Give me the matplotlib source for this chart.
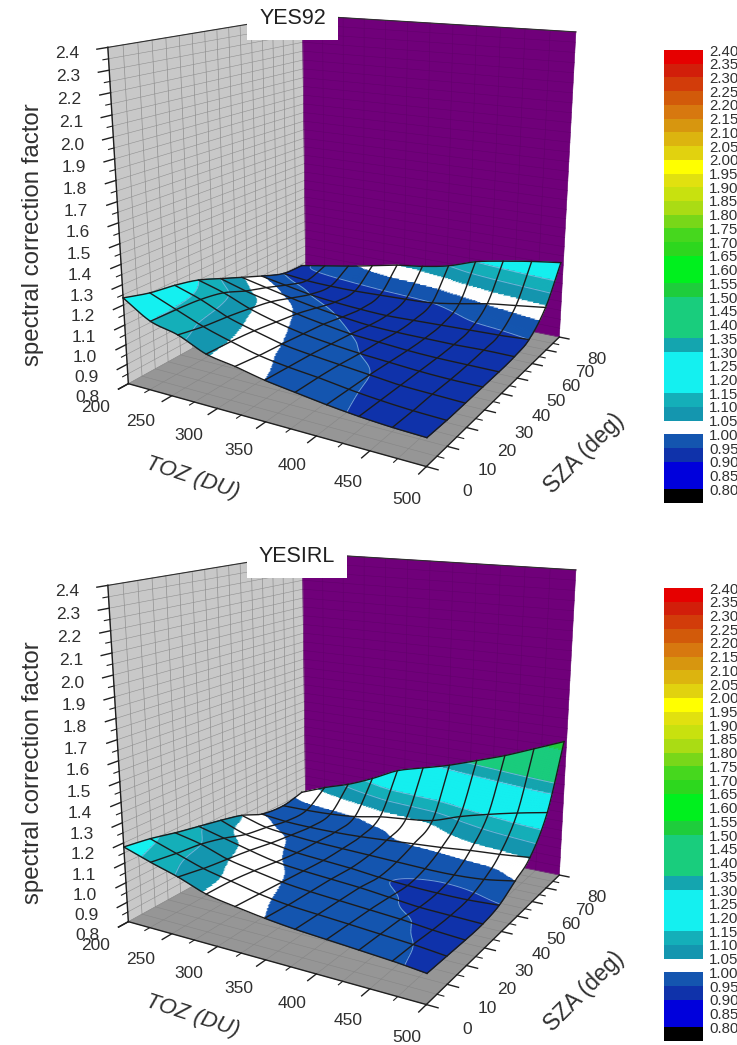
import numpy as np
import matplotlib
matplotlib.use('Agg')
import matplotlib.pyplot as plt
from matplotlib.colors import BoundaryNorm, ListedColormap
from matplotlib.patches import Rectangle
from mpl_toolkits.mplot3d import proj3d
import contourpy

W, H = 737, 1045
plt.rcParams['font.family'] = ['Liberation Sans', 'DejaVu Sans']

# mesh nodes of the surface
toz = [200, 230, 260, 290, 320, 350, 380, 410, 440, 470, 500]
sza = [0, 9.5, 19, 28.5, 38, 47.5, 57, 68, 78]

# correction factor, one row per SZA
yes92 = [
    [1.235, 1.15, 1.115, 1.055, 1.03, 1.00, .98, .96, .945, .935, .93],
    [1.20, 1.145, 1.09, 1.048, 1.012, .99, .975, .955, .94, .93, .925],
    [1.18, 1.135, 1.075, 1.035, 1.00, .98, .965, .95, .935, .93, .925],
    [1.15, 1.11, 1.055, 1.015, .985, .965, .95, .94, .93, .925, .925],
    [1.10, 1.06, 1.03, .995, .97, .95, .94, .93, .925, .925, .925],
    [1.05, 1.02, .99, .965, .945, .93, .925, .925, .925, .93, .93],
    [1.00, .975, .95, .935, .925, .92, .925, .93, .935, .94, .95],
    [.95, .935, .93, .93, .935, .94, .95, .975, 1.005, 1.025, 1.045],
    [.94, .965, .99, 1.02, 1.05, 1.07, 1.10, 1.15, 1.18, 1.205, 1.225],
]
yesirl = [
    [1.18, 1.135, 1.095, 1.045, 1.02, 1.00, .985, .975, .965, .955, .94],
    [1.16, 1.115, 1.07, 1.04, 1.01, .99, .98, .97, .96, .95, .935],
    [1.13, 1.10, 1.053, 1.025, 1.00, .985, .975, .965, .955, .94, .93],
    [1.105, 1.07, 1.035, 1.005, .99, .98, .97, .955, .94, .935, .93],
    [1.08, 1.03, 1.012, .99, .98, .97, .955, .945, .94, .94, .948],
    [1.05, 1.01, .995, .985, .98, .975, .97, .965, .965, .975, 1.00],
    [1.00, .985, .98, .98, .985, .995, 1.005, 1.015, 1.03, 1.04, 1.055],
    [.985, .985, .99, 1.003, 1.03, 1.045, 1.065, 1.115, 1.155, 1.19, 1.22],
    [1.01, 1.065, 1.11, 1.17, 1.24, 1.28, 1.32, 1.37, 1.42, 1.48, 1.54],
]

# colour bands, bottom to top
band_edges = [.75, .80, .85, .90, .95, 1.00, 1.05, 1.10, 1.15, 1.20, 1.25, 1.30, 1.35, 1.40, 1.45, 1.50, 1.55,
              1.60, 1.65, 1.70, 1.75, 1.80, 1.85, 1.90, 1.95, 2.00, 2.05, 2.10, 2.15, 2.20, 2.25, 2.30, 2.35, 2.40]
band_colors = ['#000000', '#0000dc', '#0000dc', '#0f32aa', '#1455af', '#ffffff', '#1496af', '#14afb9',
               '#14f0f0', '#14f0f0', '#14f0f0', '#14a5af', '#19cd7d', '#19cd7d', '#19cd7d', '#1ecd3c',
               '#00f01e', '#00f01e', '#2dd71e', '#46d71e', '#78d719', '#aadc14', '#c8e10f', '#e1e10f',
               '#ffff00', '#e1d20f', '#dcb40f', '#d7960f', '#d7780f', '#d25a0a', '#d23c0a', '#d21e0a', '#e60000']
bar_labels = ['%.2f' % v for v in band_edges[1:]]

z_ticks = [.8, .9, 1.0, 1.1, 1.2, 1.3, 1.4, 1.5, 1.6, 1.7, 1.8, 1.9, 2.0, 2.1, 2.2, 2.3, 2.4]
z_minor = [.85, .95, 1.05, 1.15, 1.25, 1.35, 1.45, 1.55, 1.65, 1.75, 1.85, 1.95, 2.05, 2.15, 2.25, 2.35]
toz_ticks = [200, 250, 300, 350, 400, 450, 500]
toz_minor = [225, 275, 325, 375, 425, 475]
sza_ticks = [0, 10, 20, 30, 40, 50, 60, 70, 80]
sza_minor = [5, 15, 25, 35, 45, 55, 65, 75]
contour_levels = [.95, 1.10, 1.15, 1.30, 1.35]

SUB_X, SUB_Y = 24, 36

fig = plt.figure(figsize=(W / 100, H / 100), dpi=100)


def label(ax, x, y, z, s, dx, dy, **kw):
    # text at a 3D point, moved by pixels on the page
    X, Y, _ = proj3d.proj_transform(x, y, z, ax.get_proj())
    ax.annotate(s, (X, Y), xytext=(dx, -dy), textcoords='offset pixels', ha='center', va='center',
                annotation_clip=False, color='#303030', **kw)


def refine(v, sub):
    # Catmull-Rom between the rows of v, so the bands and mesh lines bend like the drawn surface does
    pad = np.vstack([2 * v[0] - v[1], v, 2 * v[-1] - v[-2]])
    t = np.arange((len(v) - 1) * sub + 1) / sub
    i = np.minimum(t.astype(int), len(v) - 2)
    u = (t - i)[:, None]
    p0, p1, p2, p3 = pad[i], pad[i + 1], pad[i + 2], pad[i + 3]
    return .5 * (2 * p1 + (p2 - p0) * u + (2 * p0 - 5 * p1 + 4 * p2 - p3) * u**2 + (3 * p1 - p0 - 3 * p2 + p3) * u**3)


def panel(shift, title, box, values):
    ax = fig.add_axes([.0959, .5313 - shift / H, .5293 * H / W, .5293], projection='3d', computed_zorder=False)
    ax.set_proj_type('persp', focal_length=.3658)
    ax.view_init(elev=15.6938, azim=-60.0401)
    ax.set_box_aspect((.9944, .9909, 1.0056))
    ax.set_xlim(200, 500)
    ax.set_ylim(0, 80)
    ax.set_zlim(.8, 2.4)
    ax.set_axis_off()
    ax.patch.set_visible(False)
    ax.apply_aspect()

    x0, x1, y0, y1, z0, z1 = 200, 500, 0, 80, .8, 2.4
    # walls and floor
    ax.plot_surface(np.array([[x0, x1], [x0, x1]]), np.array([[y0, y0], [y1, y1]]), np.full((2, 2), z0),
                    color='#969696', shade=False, linewidth=0, zorder=1)
    ax.plot_surface(np.full((2, 2), x0), np.array([[y0, y1], [y0, y1]]), np.array([[z0, z0], [z1, z1]]),
                    color='#c8c8c8', shade=False, linewidth=0, zorder=1)
    ax.plot_surface(np.array([[x0, x1], [x0, x1]]), np.full((2, 2), y1), np.array([[z0, z0], [z1, z1]]),
                    color='#70007a', shade=False, linewidth=0, zorder=1)
    for s in sza_ticks + sza_minor:
        ax.plot([x0, x0], [s, s], [z0, z1], color='#909090', lw=.5, zorder=2)
        ax.plot([x0, x1], [s, s], [z0, z0], color='#858585', lw=.4, zorder=2)
    for v in z_ticks + z_minor:
        ax.plot([x0, x0], [y0, y1], [v, v], color='#909090', lw=.4, zorder=2)
        ax.plot([x0, x1], [y1, y1], [v, v], color='#62006c', lw=.4, zorder=2)
    for t in toz_ticks + toz_minor:
        ax.plot([t, t], [y0, y1], [z0, z0], color='#858585', lw=.4, zorder=2)
        ax.plot([t, t], [y1, y1], [z0, z1], color='#62006c', lw=.4, zorder=2)

    # box edges
    ax.plot([x0, x0], [y0, y0], [z0, z1], color='#202020', lw=1, zorder=2)
    ax.plot([x0, x0], [y0, y1], [z1, z1], color='#303030', lw=.8, zorder=2)
    ax.plot([x0, x1], [y1, y1], [z1, z1], color='#303030', lw=.8, zorder=2)
    ax.plot([x0, x1], [y0, y0], [z0, z0], color='#202020', lw=1, zorder=2)
    ax.plot([x1, x1], [y0, y1], [z0, z0], color='#202020', lw=1, zorder=2)

    # ticks
    for v in z_ticks:
        ax.plot([x0, x0], [y0, y0 - 3.5], [v, v], color='#202020', lw=1, zorder=2)
        label(ax, x0, y0, v, '%.1f' % v, -41, 6 + (2.4 - v) * 5, fontsize=12.5)
    for v in z_minor:
        ax.plot([x0, x0], [y0, y0 - 1.8], [v, v], color='#202020', lw=.8, zorder=2)
    for t in toz_ticks:
        ax.plot([t, t], [y0, y0 - 3.5], [z0, z0], color='#202020', lw=1, zorder=2)
        f = (t - x0) / (x1 - x0)
        label(ax, t, y0, z0, str(t), -33 + 13 * f, 24 + 9 * f, fontsize=12.5)
    for t in toz_minor:
        ax.plot([t, t], [y0, y0 - 1.8], [z0, z0], color='#202020', lw=.8, zorder=2)
    for s in sza_ticks:
        ax.plot([x1, x1 + 10], [s, s], [z0, z0], color='#202020', lw=1, zorder=2)
        label(ax, x1, s, z0, str(s), 41 - s / 80 * 3, 25 - s / 80 * 3, fontsize=12.5)
    for s in sza_minor:
        ax.plot([x1, x1 + 6], [s, s], [z0, z0], color='#202020', lw=.8, zorder=2)

    # surface
    values = np.array(values)
    fine_z = refine(refine(values.T, SUB_X).T, SUB_Y)
    fine_x = np.linspace(toz[0], toz[-1], fine_z.shape[1])
    fine_y = np.interp(np.arange(fine_z.shape[0]) / SUB_Y, np.arange(len(sza)), sza)
    X, Y = np.meshgrid(fine_x, fine_y)
    cell = (fine_z[:-1, :-1] + fine_z[1:, :-1] + fine_z[:-1, 1:] + fine_z[1:, 1:]) / 4
    cmap = ListedColormap(band_colors)
    colors = cmap(BoundaryNorm(band_edges, cmap.N)(cell))
    ax.plot_surface(X, Y, fine_z, facecolors=colors, rcount=fine_z.shape[0], ccount=fine_z.shape[1], shade=False,
                    linewidth=.6, antialiased=True, zorder=3)

    # pale band outlines
    gen = contourpy.contour_generator(fine_x, fine_y, fine_z)
    for lev in contour_levels:
        for line in gen.lines(lev):
            ax.plot(line[:, 0], line[:, 1], np.full(len(line), lev), color='#86b8e0', lw=.7, alpha=.8, zorder=4)

    # mesh
    for i in range(len(sza)):
        ax.plot(fine_x, [sza[i]] * len(fine_x), fine_z[i * SUB_Y], color='#1c1c1c', lw=1, zorder=5)
    for j in range(len(toz)):
        ax.plot([toz[j]] * len(fine_y), fine_y, fine_z[:, j * SUB_X], color='#1c1c1c', lw=1, zorder=5)

    label(ax, 350, y0, z0, 'TOZ (DU)', -73, 56, fontsize=16, rotation=-18, rotation_mode='anchor', style='italic')
    label(ax, x1, 40, z0, 'SZA (deg)', 83, 60, fontsize=16.5, rotation=45, rotation_mode='anchor')

    fig.text(33 / W, 1 - (235 + shift) / H, 'spectral correction factor', rotation=90, ha='center', va='center',
             fontsize=17.3, color='#303030')
    fig.add_artist(Rectangle((247 / W, 1 - box[1] / H), (box[0] - 247) / W, (box[1] - box[2]) / H,
                             transform=fig.transFigure, facecolor='white', edgecolor='none', zorder=5))
    fig.text((box[0] + 247) / 2 / W, 1 - (19 + shift) / H, title, ha='center', va='center', fontsize=15.5,
             color='#202020', zorder=6)

    # colour bar
    cb = fig.add_axes([664 / W, 1 - (503 + shift) / H, 39 / W, 453 / H])
    for lo, hi, c in zip(band_edges[:-1], band_edges[1:], band_colors):
        cb.bar(.5, hi - lo, bottom=lo, width=1, color=c, linewidth=0)
    cb.set_xlim(0, 1)
    cb.set_ylim(band_edges[0], band_edges[-1])
    cb.set_xticks([])
    cb.set_yticks(band_edges[1:], bar_labels, fontsize=10.8, color='#303030')
    cb.yaxis.tick_right()
    cb.tick_params(axis='y', length=0, pad=4.3)
    for sp in cb.spines.values():
        sp.set_visible(False)


panel(0, 'YES92', (338, 40, 0), yes92)
panel(538, 'YESIRL', (347, 578, 548), yesirl)

fig.savefig('out.png', dpi=100)
